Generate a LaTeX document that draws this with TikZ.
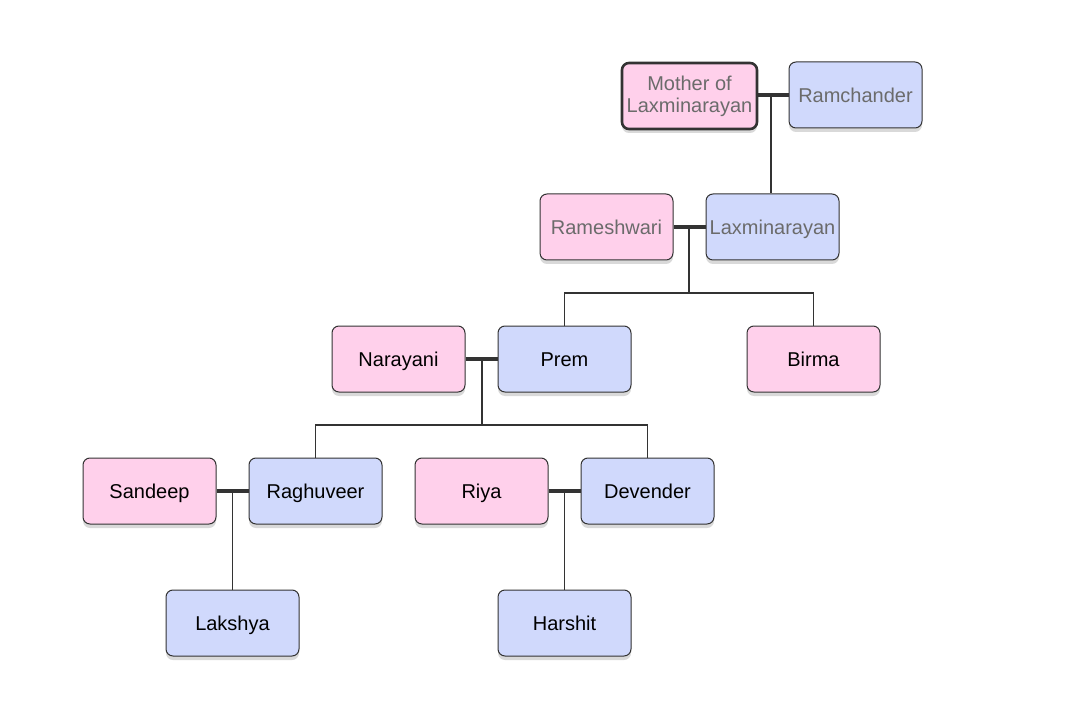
\documentclass[tikz,border=0pt]{standalone}
\usepackage{fontspec}
\setmainfont{Liberation Sans}
\usetikzlibrary{shadows}
\definecolor{pinkf}{HTML}{FFD0EB}
\definecolor{bluef}{HTML}{D0D9FC}
\definecolor{edge}{HTML}{333333}
\definecolor{gtext}{HTML}{6B6B6B}
\tikzset{
  person/.style={draw=edge, line width=1pt, rounded corners=7pt, minimum width=133pt, minimum height=66pt, inner sep=2pt, align=center, font=\fontsize{20}{22}\selectfont, text height=17pt, text depth=2pt, drop shadow={shadow xshift=0pt, shadow yshift=-4pt, opacity=0.15, fill=black}},
  female/.style={person, fill=pinkf},
  male/.style={person, fill=bluef},
  old/.style={text=gtext},
  couple/.style={draw=edge, line width=4pt},
  link/.style={draw=edge, line width=1.8pt}
}
\begin{document}
\begin{tikzpicture}[x=1pt,y=-1pt]
\useasboundingbox (0,0) rectangle (1089,703);
\fill[white] (0,0) rectangle (1089,703);
\node[female,old,line width=2.6pt,minimum width=135pt,text height=,text depth=,yshift=-1pt] (mother) at (689.5,95) {Mother of\\Laxminarayan};
\node[male,old] (ram) at (855.5,95) {Ramchander};
\node[female,old] (rame) at (606.5,227) {Rameshwari};
\node[male,old] (laxmi) at (772.5,227) {Laxminarayan};
\node[female] (nara) at (398.5,359) {Narayani};
\node[male] (prem) at (564.5,359) {Prem};
\node[female] (birma) at (813.5,359) {Birma};
\node[female] (sand) at (149.5,491) {Sandeep};
\node[male] (ragh) at (315.5,491) {Raghuveer};
\node[female] (riya) at (481.5,491) {Riya};
\node[male] (dev) at (647.5,491) {Devender};
\node[male] (lak) at (232.5,623) {Lakshya};
\node[male] (har) at (564.5,623) {Harshit};
% couples
\draw[couple] (mother.east |- ram.west) -- (ram.west);
\draw[couple] (rame.east) -- (laxmi.west);
\draw[couple] (nara.east) -- (prem.west);
\draw[couple] (sand.east) -- (ragh.west);
\draw[couple] (riya.east) -- (dev.west);
% descent
\coordinate (c1) at (771,95);
\draw[link] (c1) -- (771,0 |- laxmi.north);
\coordinate (c2) at (689,227);
\coordinate (b2) at (689,293);
\draw[link] (c2) -- (b2);
\draw[link] (prem.north) |- (b2) -| (birma.north);
\coordinate (c3) at (482,359);
\coordinate (b3) at (482,425);
\draw[link] (c3) -- (b3);
\draw[link] (ragh.north) |- (b3) -| (dev.north);
\coordinate (c4) at (232.5,491);
\draw[link] (c4) -- (lak.north);
\coordinate (c5) at (564.5,491);
\draw[link] (c5) -- (har.north);
\end{tikzpicture}
\end{document}
